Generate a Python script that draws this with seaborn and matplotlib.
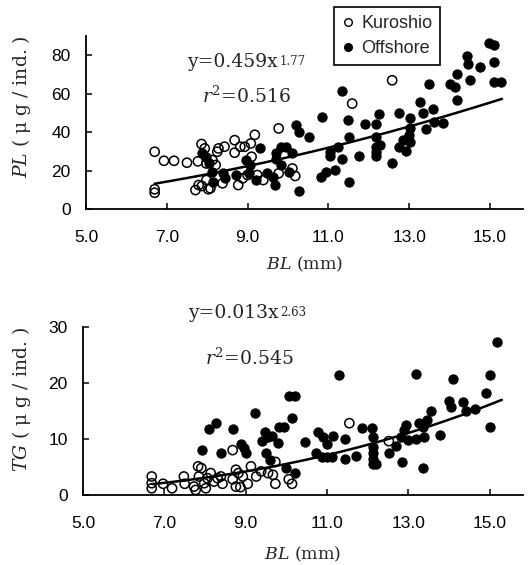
import numpy as np
import pandas as pd
import matplotlib
matplotlib.use("Agg")
import matplotlib.pyplot as plt
import seaborn as sns
from matplotlib.lines import Line2D

# ---------------- data ----------------
# Top panel: PL vs BL
pl_kuro_bl = [6.70, 6.70, 6.70, 6.93, 7.18, 7.50, 7.77, 7.86, 7.94, 7.79, 7.71, 8.03, 7.98, 8.13,
              8.21, 8.25, 8.28, 8.43, 7.98, 8.38, 8.68, 8.68, 8.82, 8.93, 9.08, 9.18, 9.10, 8.77,
              8.88, 9.00, 9.24, 9.39, 9.77, 9.77, 10.11, 10.18, 12.58, 11.59, 7.87, 8.08]
pl_kuro_pl = [29.9, 10.4, 8.6, 25.2, 25.2, 24.2, 24.9, 33.9, 31.6, 12.6, 10.0, 10.4, 23.8, 25.6,
              23.0, 29.9, 31.6, 32.5, 15.2, 13.5, 35.9, 29.4, 32.5, 32.5, 34.2, 38.7, 27.3, 12.6,
              16.1, 17.8, 17.8, 15.2, 42.0, 18.7, 21.2, 17.3, 67.0, 54.9, 12.1, 10.9]

pl_off_bl = [7.87, 7.96, 8.04, 8.11, 8.14, 8.38, 8.45, 8.71, 8.95, 9.05, 9.03, 9.20, 9.30, 9.47,
             9.62, 9.68, 9.71, 9.71, 9.82, 9.96, 10.11, 9.82, 10.02, 10.21, 10.28, 10.51, 10.28,
             10.85, 10.83, 10.93, 11.03, 11.03, 11.24, 11.17, 11.34, 11.34, 11.49, 11.50, 11.50,
             11.76, 11.91, 12.18, 12.26, 12.18, 12.18, 12.18, 12.18, 12.29, 12.58, 12.76, 12.76,
             12.85, 12.92, 13.02, 13.02, 13.00, 13.02, 13.26, 13.34, 13.42, 13.50, 13.59, 13.61,
             13.84, 14.01, 14.14, 14.18, 14.18, 14.43, 14.47, 14.52, 14.75, 14.97, 15.10, 15.09,
             15.09, 15.27]
pl_off_pl = [29.0, 27.3, 23.8, 19.5, 14.3, 18.7, 16.1, 17.8, 25.6, 23.0, 18.7, 15.2, 31.6, 18.7,
             16.9, 12.6, 29.0, 25.9, 32.5, 32.5, 29.4, 23.0, 19.5, 43.7, 40.2, 37.7, 9.7,
             48.0, 16.9, 19.5, 29.9, 27.6, 32.5, 20.4, 61.5, 25.9, 46.3, 37.7, 14.3,
             27.6, 44.2, 44.2, 49.7, 37.7, 32.5, 29.9, 27.6, 33.3, 23.8, 50.1, 32.5,
             35.9, 30.4, 47.2, 42.0, 38.5, 35.1, 55.8, 50.1, 41.5, 64.9, 52.3, 45.4,
             44.9, 64.9, 63.6, 70.5, 57.0, 79.4, 75.6, 67.4, 73.9, 86.4, 85.1, 76.3,
             66.1, 66.1]

# Bottom panel: TG vs BL
tg_kuro_bl = [6.69, 6.69, 6.69, 6.97, 7.19, 7.48, 7.50, 7.73, 7.77, 7.83, 7.91, 7.85, 7.98, 8.06,
              8.14, 8.02, 8.22, 8.31, 8.39, 8.43, 8.68, 8.68, 8.76, 8.82, 8.76, 8.87, 8.93, 9.05,
              9.13, 9.26, 9.38, 9.55, 9.67, 9.73, 9.73, 10.06, 10.14, 11.55, 12.52]
tg_kuro_tg = [3.3, 2.1, 1.2, 2.0, 1.2, 3.3, 2.0, 1.5, 0.9, 5.1, 4.8, 3.3, 2.1, 3.0,
              3.9, 1.2, 2.4, 3.0, 3.3, 2.0, 8.0, 2.8, 4.5, 3.9, 1.5, 1.4, 3.3, 2.0,
              5.1, 3.3, 4.2, 3.9, 3.6, 5.9, 2.0, 2.8, 2.0, 12.8, 9.6]

tg_off_bl = [7.93, 8.10, 8.26, 8.40, 8.68, 8.88, 8.97, 9.01, 9.23, 9.40, 9.48, 9.55, 9.64, 9.50,
             9.59, 9.79, 9.81, 9.94, 9.98, 10.06, 10.22, 10.14, 10.22, 10.47, 10.79, 10.91, 11.00,
             11.16, 10.74, 10.87, 11.00, 11.12, 11.30, 11.45, 11.45, 11.71, 11.86, 12.10, 12.12,
             12.12, 12.12, 12.12, 12.12, 12.21, 12.52, 12.69, 12.81, 12.85, 12.89, 12.95, 12.98,
             13.18, 13.18, 13.26, 13.36, 13.39, 13.36, 13.47, 13.55, 13.78, 14.01, 14.05, 14.09,
             14.34, 14.42, 14.65, 14.92, 15.00, 15.00, 15.17]
tg_off_tg = [8.1, 11.7, 12.9, 7.4, 11.7, 9.1, 8.3, 7.4, 14.7, 9.7, 11.3, 10.4, 10.5, 7.4,
             6.2, 9.2, 12.1, 12.1, 4.8, 17.6, 17.6, 13.8, 4.0, 9.4, 11.3, 10.4, 9.1,
             10.5, 7.4, 6.8, 6.8, 6.8, 21.4, 9.9, 6.5, 7.0, 11.9, 11.9, 10.4,
             8.6, 7.4, 6.5, 5.6, 5.5, 7.5, 8.7, 10.4, 5.9, 11.6, 12.5, 9.8,
             21.5, 9.9, 12.8, 12.2, 10.4, 4.9, 13.4, 14.9, 10.7, 16.8, 15.7, 20.6,
             16.5, 14.9, 15.3, 18.2, 21.4, 12.2, 27.2]

# power-law fits  y = a * x^b  (coefficients as printed on the chart)
pl_fit = (0.459, 1.77, "0.459", "1.77", "0.516")
tg_fit = (0.013, 2.63, "0.013", "2.63", "0.545")
fit_range = (6.7, 15.3)

x_ticks = [5.0, 7.0, 9.0, 11.0, 13.0, 15.0]
pl_ticks = [0, 20, 40, 60, 80]
tg_ticks = [0, 10, 20, 30]

# ---------------- style ----------------
sns.set_style("ticks")
plt.rcParams["font.family"] = ["Liberation Sans", "DejaVu Sans"]
plt.rcParams["mathtext.fontset"] = "dejavuserif"

W, H = 528, 565
fig = plt.figure(figsize=(W / 100, H / 100), dpi=100)

ax1 = fig.add_axes([86 / W, (H - 209.3) / H, 437 / W, 173.3 / H])
ax2 = fig.add_axes([83 / W, (H - 495) / H, 440 / W, 168.3 / H])


def draw(ax, kb, kv, ob, ov, fit, ylim, yticks):
    dk = pd.DataFrame({"BL": kb, "V": kv})
    do = pd.DataFrame({"BL": ob, "V": ov})
    sns.scatterplot(data=do, x="BL", y="V", ax=ax, s=44, color="black",
                    edgecolor="black", linewidth=0.8, zorder=3)
    sns.scatterplot(data=dk, x="BL", y="V", ax=ax, s=44, facecolor="none",
                    edgecolor="black", linewidth=1.1, zorder=4)
    xs = np.linspace(fit_range[0], fit_range[1], 60)
    df = pd.DataFrame({"BL": xs, "V": fit[0] * xs ** fit[1]})
    sns.lineplot(data=df, x="BL", y="V", ax=ax, color="black", lw=1.8, zorder=5)
    ax.set_xlim(5.0, 15.82)
    ax.set_ylim(*ylim)
    ax.set_xticks(x_ticks)
    ax.set_xticklabels([f"{t:.1f}" for t in x_ticks])
    ax.set_yticks(yticks)
    ax.set_yticklabels([str(t) for t in yticks])
    for s in ["top", "right"]:
        ax.spines[s].set_visible(False)
    for s in ["left", "bottom"]:
        ax.spines[s].set_linewidth(1.3)
        ax.spines[s].set_color("black")
    ax.tick_params(axis="x", direction="in", length=4, width=1.1, pad=15,
                   labelsize=12.5, colors="black")
    ax.tick_params(axis="y", direction="in", length=4, width=1.1, pad=11,
                   labelsize=12.5, colors="black")


draw(ax1, pl_kuro_bl, pl_kuro_pl, pl_off_bl, pl_off_pl, pl_fit, (0, 90), pl_ticks)
draw(ax2, tg_kuro_bl, tg_kuro_tg, tg_off_bl, tg_off_tg, tg_fit, (0, 30), tg_ticks)

serif = "DejaVu Serif"
ax1.set_ylabel(r"$PL$ ( μ g / ind. )", family=serif, fontsize=13.5)
ax1.yaxis.set_label_coords(-0.122, 0.59)
ax1.set_xlabel(r"$BL$ (mm)", family=serif, fontsize=12.5)
ax1.xaxis.set_label_coords(0.5, -0.262)

ax2.set_ylabel(r"$TG$ ( μ g / ind. )", family=serif, fontsize=13.5)
ax2.yaxis.set_label_coords(-0.114, 0.565)
ax2.set_xlabel(r"$BL$ (mm)", family=serif, fontsize=12.5)
ax2.xaxis.set_label_coords(0.5, -0.295)


def equation(ax, x, y, fit):
    t = ax.text(x, y, "y=" + fit[2] + "x", family=serif, fontsize=13.5,
                ha="right", va="center", clip_on=False)
    ax.annotate(fit[3], xy=(1.0, 1.0), xycoords=t, xytext=(1.5, -1.5),
                textcoords="offset points", family=serif, fontsize=8.5,
                ha="left", va="top", annotation_clip=False)


equation(ax1, 9.75, 76.5, pl_fit)
ax1.text(8.98, 58.5, r"$r^2$=" + pl_fit[4], family=serif, fontsize=13.5,
         ha="center", va="center")
equation(ax2, 9.8, 32.4, tg_fit)
ax2.text(9.1, 24.4, r"$r^2$=" + tg_fit[4], family=serif, fontsize=13.5,
         ha="center", va="center")

handles = [
    Line2D([], [], marker="o", ls="", mfc="white", mec="black", mew=1.0, ms=5.5),
    Line2D([], [], marker="o", ls="", mfc="black", mec="black", ms=5.5),
]
leg = fig.legend(handles, ["Kuroshio", "Offshore"], loc="upper left",
                 bbox_to_anchor=(334 / W, 1 - 7 / H), fontsize=13,
                 frameon=True, fancybox=False, framealpha=1, edgecolor="black",
                 handlelength=0.6, handletextpad=0.45, borderpad=0.45,
                 labelspacing=0.45, borderaxespad=0)
leg.get_frame().set_linewidth(1.2)

fig.savefig("out.png", dpi=100)
